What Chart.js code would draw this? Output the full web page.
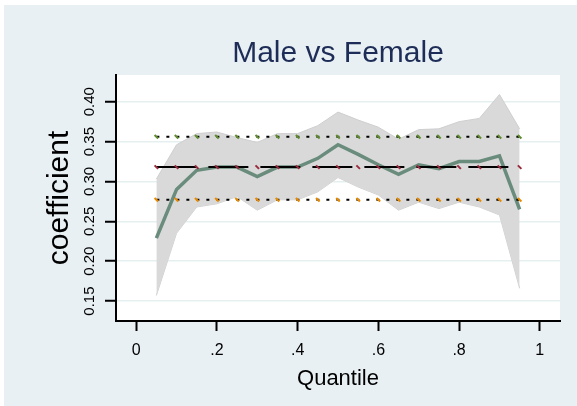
<!DOCTYPE html>
<html>
<head>
<meta charset="utf-8">
<script src="https://cdn.jsdelivr.net/npm/chart.js@4"></script>
<style>
  body { margin: 0; background: #ffffff; }
  #wrap { position: absolute; left: 4px; top: 5px; width: 573px; height: 401px; background: #e8f0f3; }
</style>
</head>
<body>
<div id="wrap"><canvas id="qreg-chart" width="573" height="401"></canvas></div>
<script>
const quantiles = [0.05, 0.10, 0.15, 0.20, 0.25, 0.30, 0.35, 0.40, 0.45, 0.50, 0.55, 0.60, 0.65, 0.70, 0.75, 0.80, 0.85, 0.90, 0.95];
const coef  = [0.229, 0.290, 0.314, 0.318, 0.318, 0.306, 0.318, 0.318, 0.329, 0.346, 0.334, 0.321, 0.309, 0.321, 0.316, 0.325, 0.325, 0.332, 0.265];
const ciUpper = [0.303, 0.346, 0.360, 0.362, 0.355, 0.349, 0.360, 0.360, 0.370, 0.387, 0.377, 0.368, 0.353, 0.365, 0.366, 0.375, 0.379, 0.409, 0.366];
const ciLower = [0.157, 0.235, 0.268, 0.272, 0.281, 0.264, 0.277, 0.277, 0.287, 0.305, 0.293, 0.283, 0.264, 0.274, 0.266, 0.274, 0.268, 0.258, 0.166];
const olsCoef  = [0.318, 0.318, 0.318, 0.318, 0.318, 0.318, 0.318, 0.318, 0.318, 0.318, 0.318, 0.318, 0.318, 0.318, 0.318, 0.318, 0.318, 0.318, 0.318];
const olsUpper = [0.356, 0.356, 0.356, 0.356, 0.356, 0.356, 0.356, 0.356, 0.356, 0.356, 0.356, 0.356, 0.356, 0.356, 0.356, 0.356, 0.356, 0.356, 0.356];
const olsLower = [0.277, 0.277, 0.277, 0.277, 0.277, 0.277, 0.277, 0.277, 0.277, 0.277, 0.277, 0.277, 0.277, 0.277, 0.277, 0.277, 0.277, 0.277, 0.277];
const xTicks = [0, 0.2, 0.4, 0.6, 0.8, 1];
const xTickLabels = ['0', '.2', '.4', '.6', '.8', '1'];
const yTicks = [0.15, 0.20, 0.25, 0.30, 0.35, 0.40];

function pts(values) {
    return quantiles.map((q, i) => ({ x: q, y: values[i] }));
}

// white plot region
const plotBg = {
    id: 'plotBg',
    beforeDraw(chart) {
        const a = chart.chartArea;
        chart.ctx.save();
        chart.ctx.fillStyle = '#ffffff';
        chart.ctx.fillRect(a.left, a.top, a.right - a.left, a.bottom - a.top);
        chart.ctx.restore();
    }
};

Chart.defaults.font.family = '"Liberation Sans", Arial, sans-serif';
Chart.defaults.color = '#000000';

new Chart(document.getElementById('qreg-chart'), {
    type: 'line',
    data: {
        datasets: [
            {
                label: 'lower',
                data: pts(ciLower),
                borderColor: '#cfcfcf',
                borderWidth: 1,
                pointRadius: 0,
                fill: false,
                order: 6
            },
            {
                label: 'upper',
                data: pts(ciUpper),
                borderColor: '#cfcfcf',
                borderWidth: 1,
                backgroundColor: '#d9d9d9',
                pointRadius: 0,
                fill: '-1',
                order: 5
            },
            {
                label: 'coefficient',
                data: pts(coef),
                borderColor: '#698c7d',
                borderWidth: 3.5,
                pointRadius: 0,
                fill: false,
                order: 4
            },
            {
                label: 'ols upper',
                data: pts(olsUpper),
                borderColor: '#000000',
                borderWidth: 2,
                borderDash: [3, 7],
                pointStyle: 'line',
                rotation: 45,
                pointRadius: 2.5,
                pointBorderWidth: 2,
                pointBorderColor: '#5f8c2e',
                fill: false,
                order: 3
            },
            {
                label: 'ols lower',
                data: pts(olsLower),
                borderColor: '#000000',
                borderWidth: 2,
                borderDash: [3, 7],
                pointStyle: 'line',
                rotation: 45,
                pointRadius: 2.5,
                pointBorderWidth: 2,
                pointBorderColor: '#e88a00',
                fill: false,
                order: 2
            },
            {
                label: 'ols',
                data: pts(olsCoef),
                borderColor: '#000000',
                borderWidth: 2,
                borderDash: [40, 12],
                pointStyle: 'line',
                rotation: 45,
                pointRadius: 2.5,
                pointBorderWidth: 2,
                pointBorderColor: '#9a2a3c',
                fill: false,
                order: 1
            }
        ]
    },
    options: {
        responsive: false,
        animation: false,
        layout: { padding: { left: 0, right: 17, top: 0, bottom: 0 } },
        plugins: {
            legend: { display: false },
            tooltip: { enabled: false },
            title: {
                display: true,
                text: 'Male vs Female',
                color: '#1e2d57',
                fullSize: false,
                font: { size: 30, weight: 'normal' },
                padding: { top: 31, bottom: 3 }
            }
        },
        scales: {
            x: {
                type: 'linear',
                min: -0.05,
                max: 1.05,
                afterFit(scale) { scale.height = 85; },
                afterBuildTicks(scale) { scale.ticks = xTicks.map(v => ({ value: v })); },
                ticks: {
                    font: { size: 16 },
                    padding: 10,
                    maxRotation: 0,
                    callback: (v) => xTickLabels[xTicks.indexOf(v)]
                },
                grid: {
                    drawOnChartArea: false,
                    drawTicks: true,
                    tickLength: 10,
                    tickWidth: 2,
                    tickColor: '#000000'
                },
                border: { display: true, color: '#000000', width: 2 },
                title: {
                    display: true,
                    text: 'Quantile',
                    font: { size: 22 },
                    padding: { top: 0, bottom: 14 }
                }
            },
            y: {
                min: 0.125,
                max: 0.4335,
                afterFit(scale) { scale.width = 112; },
                afterBuildTicks(scale) { scale.ticks = yTicks.map(v => ({ value: v })); },
                ticks: {
                    font: { size: 15 },
                    padding: 1,
                    minRotation: 90,
                    maxRotation: 90,
                    crossAlign: 'center',
                    callback: (v) => v.toFixed(2)
                },
                grid: {
                    color: '#e6eff0',
                    lineWidth: 1.5,
                    drawTicks: true,
                    tickLength: 11,
                    tickWidth: 2,
                    tickColor: '#000000'
                },
                border: { display: true, color: '#000000', width: 2 },
                title: {
                    display: true,
                    text: 'coefficient',
                    font: { size: 30 },
                    padding: { top: 38, bottom: 0 }
                }
            }
        }
    },
    plugins: [plotBg]
});
</script>
</body>
</html>
